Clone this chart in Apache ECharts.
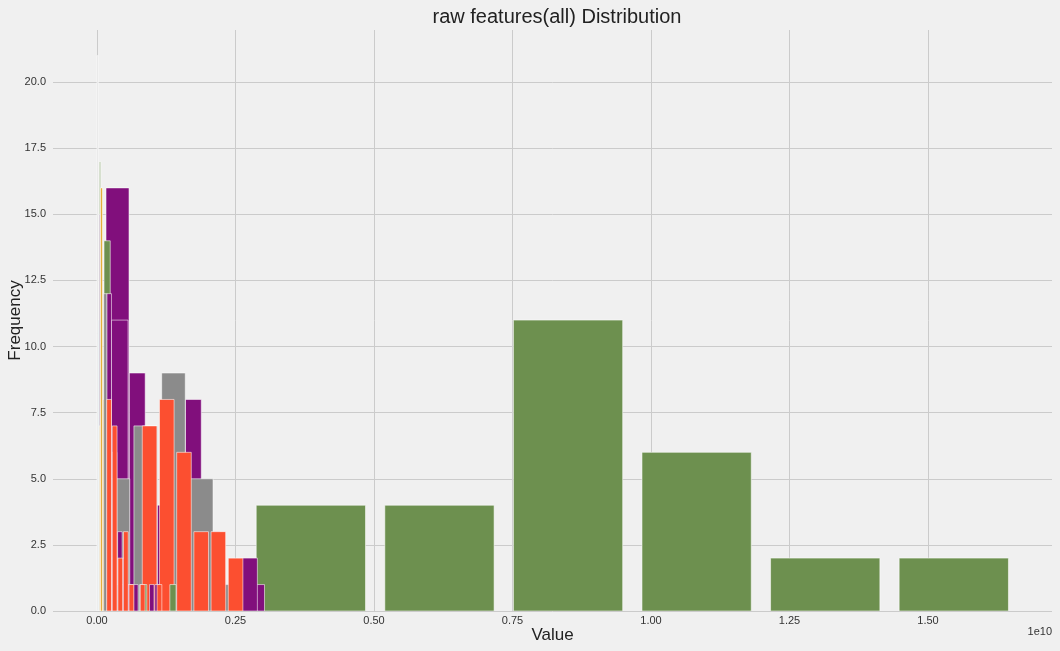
<!DOCTYPE html>
<html>
<head>
<meta charset="utf-8">
<title>raw features(all) Distribution</title>
<script src="https://cdn.jsdelivr.net/npm/echarts@6/dist/echarts.min.js"></script>
<style>
  html, body { margin: 0; padding: 0; background: #f0f0f0; }
  #chart { width: 1060px; height: 651px; }
</style>
</head>
<body>
<div id="chart"></div>
<script>
// axis ticks (x in units of 1e10)
const xTicks = [0, 0.25, 0.5, 0.75, 1.0, 1.25, 1.5]
const yTicks = [0, 2.5, 5, 7.5, 10, 12.5, 15, 17.5, 20]

// each feature: first bin edge, bin width (x 1e10), counts per bin
const greenStart = 0.0379, greenWidth = 0.2321
const greenCounts = [0, 4, 4, 11, 6, 2, 2]

const purpleAStart = 0.0126, purpleAWidth = 0.0489
const purpleACounts = [16, 4, 3, 2, 1, 1]

const purpleBStart = 0.0235, purpleBWidth = 0.0352
const purpleBCounts = [11, 6, 4, 3, 2, 1, 1]

const purpleCStart = 0.0558, purpleCWidth = 0.03375
const purpleCCounts = [9, 4, 5, 8, 3, 0, 2]

const greyStart = 0.0128, greyWidth = 0.0501
const greyCounts = [5, 7, 9, 5, 1]

const redStart = 0.0794, redWidth = 0.03105
const redCounts = [7, 8, 6, 3, 3, 2]

// narrow features piled up near zero
const paleStart = -0.0003, paleWidth = 0.0030
const paleCounts = [21, 2, 1, 1, 0, 1, 1, 0, 1, 1]

const skyStart = 0.0020, skyWidth = 0.0036
const skyCounts = [11, 3, 2, 1, 1, 1, 1, 0, 1, 1]

const sageStart = 0.0031, sageWidth = 0.0047
const sageCounts = [17, 4, 2, 3, 1, 1, 0, 1, 1, 1]

const lavenderStart = 0.0038, lavenderWidth = 0.0025
const lavenderCounts = [15, 5, 3, 2, 1, 1, 1, 1, 0, 1]

const beigeStart = 0.0036, beigeWidth = 0.0060
const beigeCounts = [7, 4, 2, 2, 1, 1, 1, 0, 1, 1]

const peachStart = 0.0063, peachWidth = 0.0054
const peachCounts = [8, 5, 3, 2, 1, 1, 1, 0, 1, 1]

const yellowStart = 0.0061, yellowWidth = 0.0042
const yellowCounts = [16, 8, 11, 4, 2, 1, 1, 1, 0, 1]

const greenThinStart = 0.0117, greenThinWidth = 0.0132
const greenThinCounts = [14, 2, 1, 1, 0, 1, 0, 0, 0, 1]

const greyThinStart = 0.0116, greyThinWidth = 0.0072
const greyThinCounts = [12, 4, 2, 1, 1, 0, 1, 0, 0, 1]

const purpleThinStart = 0.0173, purpleThinWidth = 0.0096
const purpleThinCounts = [12, 6, 3, 2, 1, 1, 0, 0, 1, 1]

const redThinStart = 0.0168, redThinWidth = 0.0101
const redThinCounts = [8, 7, 2, 3, 1, 0, 1, 0, 0, 1]

const features = [
  ["green", greenStart, greenWidth, greenCounts, "#6d904f"],
  ["purple a", purpleAStart, purpleAWidth, purpleACounts, "#810f7c"],
  ["purple b", purpleBStart, purpleBWidth, purpleBCounts, "#810f7c"],
  ["purple c", purpleCStart, purpleCWidth, purpleCCounts, "#810f7c"],
  ["grey", greyStart, greyWidth, greyCounts, "#8b8b8b"],
  ["red", redStart, redWidth, redCounts, "#fc4f30"],
  ["pale", paleStart, paleWidth, paleCounts, "#e2e2e2"],
  ["sky", skyStart, skyWidth, skyCounts, "#c3dae6"],
  ["sage", sageStart, sageWidth, sageCounts, "#cdd8c3"],
  ["lavender", lavenderStart, lavenderWidth, lavenderCounts, "#bba7bf"],
  ["beige", beigeStart, beigeWidth, beigeCounts, "#ecdbb8"],
  ["peach", peachStart, peachWidth, peachCounts, "#f7b9a8"],
  ["yellow", yellowStart, yellowWidth, yellowCounts, "#e5ae38"],
  ["green thin", greenThinStart, greenThinWidth, greenThinCounts, "#6d904f"],
  ["grey thin", greyThinStart, greyThinWidth, greyThinCounts, "#8b8b8b"],
  ["purple thin", purpleThinStart, purpleThinWidth, purpleThinCounts, "#810f7c"],
  ["red thin", redThinStart, redThinWidth, redThinCounts, "#fc4f30"]
]

const RWIDTH = 0.85

function binsToRows(start, width, counts) {
  const pad = width * (1 - RWIDTH) / 2
  const rows = []
  counts.forEach((count, i) => {
    if (!count) return
    const left = start + i * width
    rows.push([left + pad, left + width - pad, count])
  })
  return rows
}

function renderBar(params, api) {
  const top = api.coord([api.value(0), api.value(2)])
  const bottom = api.coord([api.value(1), 0])
  return {
    type: "rect",
    shape: { x: top[0], y: top[1], width: bottom[0] - top[0], height: bottom[1] - top[1] },
    style: { fill: api.visual("color"), stroke: "rgba(255,255,255,0.55)", lineWidth: 1 }
  }
}

const chart = echarts.init(document.getElementById("chart"), null, { renderer: "canvas" })
const font = "'Liberation Sans', Arial, sans-serif"

chart.setOption({
  backgroundColor: "#f0f0f0",
  animation: false,
  title: {
    text: "raw features(all) Distribution",
    left: 552,
    textAlign: "center",
    top: 2,
    textStyle: { color: "#222", fontSize: 20, fontWeight: "normal", fontFamily: font }
  },
  grid: { left: 53, right: 8, top: 30, bottom: 40, outerBoundsMode: "none", containLabel: false },
  xAxis: {
    type: "value",
    min: -0.0794,
    max: 1.7238,
    name: "Value",
    nameLocation: "middle",
    nameGap: 16,
    nameMoveOverlap: false,
    nameTextStyle: { color: "#222", fontSize: 17, fontFamily: font },
    axisLine: { show: false },
    axisTick: { show: false, customValues: xTicks },
    axisLabel: {
      customValues: xTicks,
      margin: 4,
      color: "#333",
      fontSize: 11,
      fontFamily: font,
      formatter: (v) => v.toFixed(2)
    },
    splitLine: { show: true, lineStyle: { color: "#cbcbcb", width: 1 } }
  },
  yAxis: {
    type: "value",
    min: 0,
    max: 21.97,
    name: "Frequency",
    nameLocation: "middle",
    nameGap: 29,
    nameMoveOverlap: false,
    nameTextStyle: { color: "#222", fontSize: 17, fontFamily: font },
    axisLine: { show: false },
    axisTick: { show: false, customValues: yTicks },
    axisLabel: {
      customValues: yTicks,
      margin: 7,
      color: "#333",
      fontSize: 11,
      fontFamily: font,
      formatter: (v) => v.toFixed(1)
    },
    splitLine: { show: true, lineStyle: { color: "#cbcbcb", width: 1 } }
  },
  graphic: [{
    type: "text",
    right: 8,
    top: 626,
    style: { text: "1e10", fill: "#333", fontSize: 11, fontFamily: font }
  }],
  series: features.map(([name, start, width, counts, color]) => ({
    name,
    type: "custom",
    clip: true,
    itemStyle: { color },
    encode: { x: [0, 1], y: 2 },
    renderItem: renderBar,
    data: binsToRows(start, width, counts)
  }))
})
</script>
</body>
</html>
